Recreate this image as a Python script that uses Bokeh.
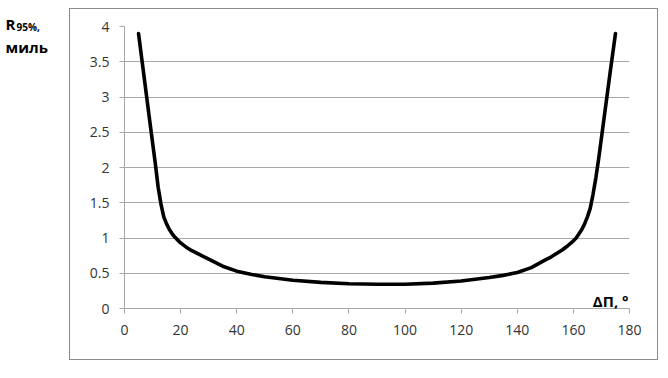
from bokeh.plotting import figure
from bokeh.models import Range1d, FixedTicker, Label, InlineStyleSheet, Row
from bokeh.embed import file_html
from bokeh.resources import INLINE

# ---- data ----
delta_p = [5, 7, 9, 11, 12, 13, 14, 15, 16, 17, 18, 19, 20, 22, 24, 27, 30, 35, 40,
           45, 50, 60, 70, 80, 90, 100, 110, 120, 130, 135, 140, 145, 150, 152, 154,
           156, 158, 160, 161, 162, 163, 164, 165, 166, 167, 168, 169, 171, 173, 175]
r95 = [3.90, 3.28, 2.66, 2.05, 1.72, 1.48, 1.30, 1.20, 1.12, 1.06, 1.01, 0.97, 0.93,
       0.87, 0.82, 0.76, 0.70, 0.60, 0.53, 0.485, 0.45, 0.40, 0.37, 0.35, 0.345, 0.345,
       0.36, 0.39, 0.44, 0.47, 0.51, 0.58, 0.69, 0.73, 0.78, 0.83, 0.89, 0.96, 1.00,
       1.06, 1.12, 1.20, 1.30, 1.42, 1.62, 1.85, 2.12, 2.72, 3.32, 3.90]
x_ticks = [0, 20, 40, 60, 80, 100, 120, 140, 160, 180]
y_ticks = [0, 0.5, 1, 1.5, 2, 2.5, 3, 3.5, 4]
y_tick_labels = ["0", "0.5", "1", "1.5", "2", "2.5", "3", "3.5", "4"]
x_title = "ΔП, °"
y_title_main = "R"
y_title_sub = "95%,"
y_title_unit = "миль"

FONT = "Open Sans"
GRID = "#a8a8a8"
TXT = "#333333"

# ---- main chart (starts 69 px from the left of the page) ----
p = figure(width=599, height=378, output_backend="svg", toolbar_location=None,
           x_range=Range1d(0, 180), y_range=Range1d(0, 4), title=None,
           min_border_left=55, min_border_right=39, min_border_top=26,
           min_border_bottom=70)
p.outline_line_color = None
p.background_fill_color = "white"
p.border_fill_color = "white"

p.line(delta_p, r95, line_color="black", line_width=3.6,
       line_join="round", line_cap="round")

p.xaxis.ticker = FixedTicker(ticks=x_ticks)
p.yaxis.ticker = FixedTicker(ticks=y_ticks)
p.yaxis.major_label_overrides = {t: l for t, l in zip(y_ticks, y_tick_labels)}
for ax in (p.xaxis[0], p.yaxis[0]):
    ax.axis_line_color = GRID
    ax.major_tick_line_color = GRID
    ax.minor_tick_line_color = None
    ax.major_tick_in = 0
    ax.major_tick_out = 5
    ax.major_label_text_font = FONT
    ax.major_label_text_font_size = "14px"
    ax.major_label_text_color = TXT
p.xaxis.major_label_standoff = 11
p.yaxis.major_label_standoff = 10

p.xgrid.grid_line_color = None
p.ygrid.grid_line_color = GRID
p.ygrid.grid_line_width = 1

p.add_layout(Label(x=504, y=8, x_units="screen", y_units="screen", text=x_title,
                   text_font=FONT, text_font_size="15px", text_font_style="bold",
                   text_color="black", text_align="right", text_baseline="alphabetic"))

# outer chart border
p.stylesheets = [InlineStyleSheet(css=(
    ":host{position:relative;}"
    ":host::after{content:'';position:absolute;left:0px;top:8px;width:589px;"
    "height:352px;border:1px solid #8a8a8a;pointer-events:none;box-sizing:content-box;}"))]

# ---- left strip holding the y-axis title ----
t = figure(width=69, height=378, output_backend="svg", toolbar_location=None,
           x_range=Range1d(0, 1), y_range=Range1d(0, 1), title=None,
           x_axis_location=None, y_axis_location=None,
           min_border=0, min_border_left=0, min_border_right=0,
           min_border_top=0, min_border_bottom=0)
if "frame_align" in t.properties():
    t.frame_align = False
t.outline_line_color = None
t.xgrid.visible = False
t.ygrid.visible = False
t.add_layout(Label(x=5, y=355, x_units="screen", y_units="screen", text=y_title_main,
                   text_font=FONT, text_font_size="15px", text_font_style="bold",
                   text_color="black", text_align="left", text_baseline="alphabetic"))
t.add_layout(Label(x=16, y=352, x_units="screen", y_units="screen", text=y_title_sub,
                   text_font=FONT, text_font_size="10px", text_font_style="bold",
                   text_color="black", text_align="left", text_baseline="alphabetic"))
t.add_layout(Label(x=5, y=332, x_units="screen", y_units="screen", text=y_title_unit,
                   text_font=FONT, text_font_size="15px", text_font_style="bold",
                   text_color="black", text_align="left", text_baseline="alphabetic"))

layout = Row(children=[t, p], spacing=0)
open("out.html", "w").write(file_html(layout, INLINE))
